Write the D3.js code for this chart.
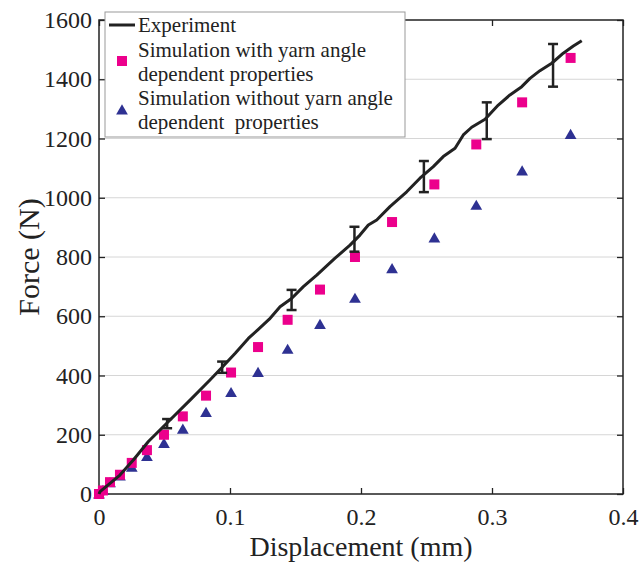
<!DOCTYPE html>
<html>
<head>
<meta charset="utf-8">
<script src="https://cdn.jsdelivr.net/npm/d3@7"></script>
<style>
  body { margin: 0; background: #fff; }
  svg { display: block; }
  text { font-family: "Liberation Serif", "Times New Roman", serif; fill: #222; }
</style>
</head>
<body>
<svg id="chart" width="639" height="562"></svg>
<script>
// ---- data ----
const simDisp = [0, 0.003, 0.0084, 0.016, 0.025, 0.0366, 0.0496, 0.064, 0.0817, 0.1008, 0.1214, 0.144, 0.1687, 0.1954, 0.2237, 0.256, 0.288, 0.323, 0.360];
const simWith = [0, 12, 40, 65, 105, 148, 200, 262, 332, 410, 496, 588, 690, 800, 918, 1045, 1180, 1322, 1472];
const simWithout = [0, 12, 38, 60, 90, 126, 170, 218, 275, 342, 410, 488, 572, 660, 760, 864, 974, 1090, 1213];

const expDisp = [0, 0.0008, 0.0084, 0.016, 0.0262, 0.0377, 0.0542, 0.0695, 0.0847, 0.094, 0.104, 0.114, 0.1214, 0.13, 0.1382, 0.147, 0.156, 0.1662, 0.1802, 0.1916, 0.1992, 0.2056, 0.212, 0.2221, 0.2349, 0.245, 0.2552, 0.2628, 0.2718, 0.2781, 0.2845, 0.2947, 0.3048, 0.3137, 0.3227, 0.329, 0.3366, 0.3456, 0.3544, 0.3621, 0.3685];
const expForce = [0, 8, 36, 64, 115, 177, 250, 317, 385, 428, 475, 525, 555, 590, 632, 660, 700, 739, 796, 840, 874, 908, 925, 970, 1020, 1066, 1105, 1139, 1167, 1212, 1238, 1265, 1313, 1347, 1375, 1403, 1429, 1454, 1488, 1512, 1530];

const errDisp = [0.052, 0.094, 0.147, 0.195, 0.248, 0.296, 0.3466];
const errLow = [222, 409, 621, 818, 1019, 1198, 1375];
const errHigh = [253, 447, 689, 902, 1124, 1322, 1519];

const xTicks = [0, 0.1, 0.2, 0.3, 0.4];
const yTicks = [0, 200, 400, 600, 800, 1000, 1200, 1400, 1600];
const legendLines = [
  ["Experiment"],
  ["Simulation with yarn angle", "dependent properties"],
  ["Simulation without yarn angle", "dependent  properties"]
];

// ---- layout ----
const W = 639, H = 562;
const m = {left: 99, right: 16, top: 20, bottom: 68};
const FONT = '"Liberation Serif", "Times New Roman", serif';
const svg = d3.select("#chart");
const x = d3.scaleLinear().domain([0, 0.4]).range([m.left, W - m.right]);
const y = d3.scaleLinear().domain([0, 1600]).range([H - m.bottom, m.top]);
const pink = "#ec008c", blue = "#2e3192";

// gridlines
svg.append("g").selectAll("line").data(yTicks.filter(d => d > 0 && d < 1600)).join("line")
  .attr("x1", x(0)).attr("x2", x(0.4))
  .attr("y1", d => y(d)).attr("y2", d => y(d))
  .attr("stroke", "#d6d6d6").attr("stroke-width", 1);

// axes with inward ticks
const fmtX = d => d === 0 ? "0" : d3.format(".1f")(d);
const gx = svg.append("g").attr("transform", `translate(0,${y(0)})`)
  .call(d3.axisBottom(x).tickValues(xTicks).tickFormat(fmtX).tickSize(-6).tickPadding(14));
const gxt = svg.append("g").attr("transform", `translate(0,${y(1600)})`)
  .call(d3.axisTop(x).tickValues(xTicks).tickFormat("").tickSize(-6));
const gy = svg.append("g").attr("transform", `translate(${x(0)},0)`)
  .call(d3.axisLeft(y).tickValues(yTicks).tickFormat(d3.format("d")).tickSize(-6).tickPadding(7));
const gyr = svg.append("g").attr("transform", `translate(${x(0.4)},0)`)
  .call(d3.axisRight(y).tickValues(yTicks).tickFormat("").tickSize(-6));
[gx, gxt, gy, gyr].forEach(g => {
  g.attr("font-family", FONT);
  g.select(".domain").remove();
  g.selectAll(".tick line").attr("stroke", "#222").attr("stroke-width", 1.3);
  g.selectAll("text").style("font-family", FONT).style("font-size", "24px").attr("fill", "#222");
});
gx.selectAll("text").attr("dy", "0.71em");

// frame
svg.append("rect").attr("x", x(0)).attr("y", y(1600))
  .attr("width", x(0.4) - x(0)).attr("height", y(0) - y(1600))
  .attr("fill", "none").attr("stroke", "#222").attr("stroke-width", 1.5);

// simulation without (triangles)
const tri = d3.symbol().type(d3.symbolTriangle).size(60);
svg.append("g").selectAll("path").data(simDisp.map((d, i) => [d, simWithout[i]])).join("path")
  .attr("d", tri).attr("transform", d => `translate(${x(d[0])},${y(d[1]) + 1})`)
  .attr("fill", blue);

// simulation with (squares)
const sq = 10;
svg.append("g").selectAll("rect").data(simDisp.map((d, i) => [d, simWith[i]])).join("rect")
  .attr("x", d => x(d[0]) - sq / 2).attr("y", d => y(d[1]) - sq / 2)
  .attr("width", sq).attr("height", sq).attr("fill", pink);

// experiment line
const line = d3.line().x(d => x(d[0])).y(d => y(d[1]));
svg.append("path").datum(expDisp.map((d, i) => [d, expForce[i]]))
  .attr("d", line).attr("fill", "none").attr("stroke", "#222").attr("stroke-width", 3)
  .attr("stroke-linejoin", "round");

// error bars
const eb = svg.append("g").attr("stroke", "#222").attr("stroke-width", 2.5);
errDisp.forEach((d, i) => {
  eb.append("line").attr("x1", x(d)).attr("x2", x(d)).attr("y1", y(errLow[i])).attr("y2", y(errHigh[i]));
  [errLow[i], errHigh[i]].forEach(v => {
    eb.append("line").attr("x1", x(d) - 5).attr("x2", x(d) + 5).attr("y1", y(v)).attr("y2", y(v));
  });
});

// axis titles
svg.append("text").attr("x", (x(0) + x(0.4)) / 2).attr("y", 556)
  .attr("text-anchor", "middle").style("font-family", FONT).style("font-size", "28px").text("Displacement (mm)");
svg.append("text").attr("transform", `translate(39,257) rotate(-90)`)
  .attr("text-anchor", "middle").style("font-family", FONT).style("font-size", "30px").text("Force (N)");

// legend
const lg = svg.append("g");
lg.append("rect").attr("x", 105).attr("y", 12).attr("width", 300).attr("height", 125)
  .attr("fill", "#fff").attr("stroke", "#999").attr("stroke-width", 1);
lg.append("line").attr("x1", 109).attr("x2", 135).attr("y1", 25).attr("y2", 25)
  .attr("stroke", "#222").attr("stroke-width", 3);
lg.append("rect").attr("x", 122 - sq / 2).attr("y", 61 - sq / 2).attr("width", sq).attr("height", sq).attr("fill", pink);
lg.append("path").attr("d", tri).attr("transform", "translate(122,111)").attr("fill", blue);
const baselines = [[32], [57, 81], [105, 129]];
legendLines.forEach((ls, i) => {
  ls.forEach((t, j) => {
    lg.append("text").attr("x", 138).attr("y", baselines[i][j])
      .style("font-family", FONT).style("font-size", "21px").style("white-space", "pre").text(t);
  });
});
</script>
</body>
</html>
